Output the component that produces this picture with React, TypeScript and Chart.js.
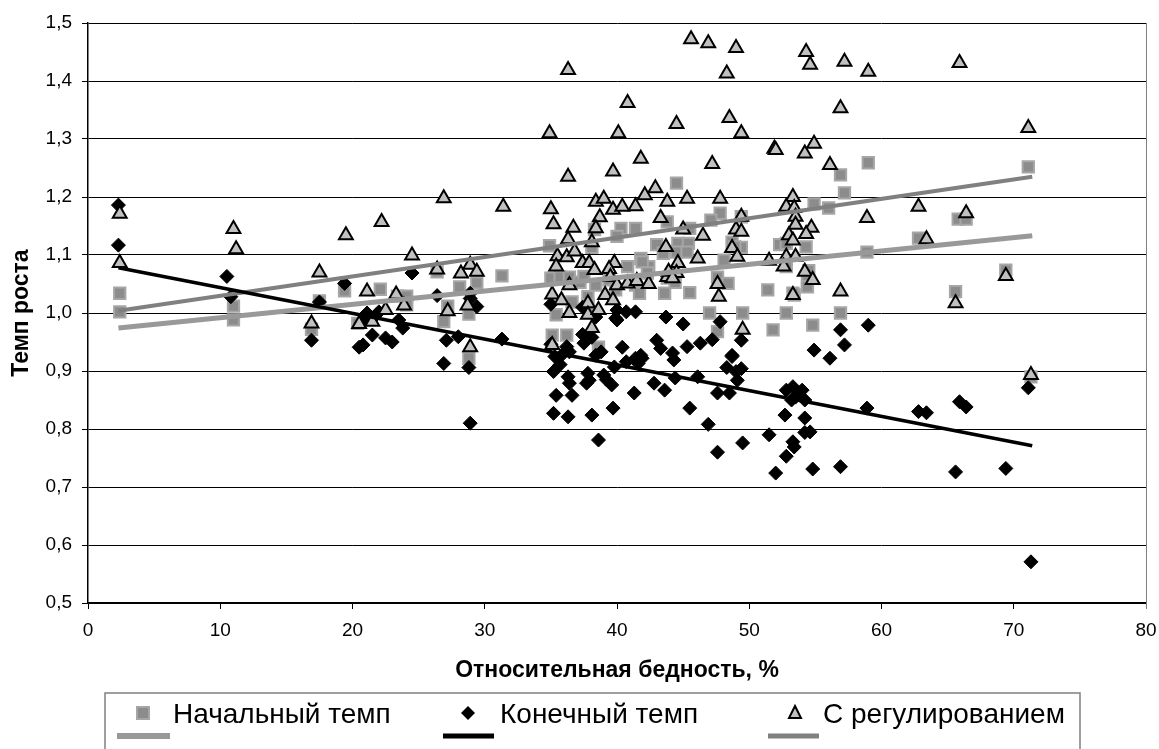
import React, { useEffect, useRef } from "react";
import { Chart, registerables } from "chart.js";

Chart.register(...registerables);

const SERIES_NAMES = ["Начальный темп", "Конечный темп", "С регулированием"];
const X_TITLE = "Относительная бедность, %";
const Y_TITLE = "Темп роста";
const X_MIN = 0, X_MAX = 80, X_STEP = 10;
const Y_MIN = 0.5, Y_MAX = 1.5, Y_STEP = 0.1;

// Начальный темп (squares)
const initialRate: number[][] = [
  [2.4,1.034],[2.4,1.002],[11.0,1.012],[11.0,0.988],[16.9,0.972],[17.5,1.021],[19.4,1.038],[22.1,1.041],
  [20.4,0.982],[23.4,1.029],[24.1,1.029],[24.1,1.014],[26.4,1.071],[27.2,1.012],[26.9,0.985],[28.1,1.045],
  [29.4,1.052],[28.8,0.998],[28.8,0.922],[31.3,1.064],
  [44.5,1.224],[47.8,1.172],[47.1,1.16],[49.4,1.166],[40.3,1.146],[41.4,1.146],[40.0,1.132],[43.0,1.118],
  [43.8,1.157],[44.6,1.12],[45.4,1.12],[48.7,1.122],[49.4,1.113],[52.3,1.118],[34.9,1.116],[38.3,1.144],
  [38.1,1.113],[41.8,1.094],[40.8,1.08],[42.4,1.08],[48.1,1.091],[35.0,1.06],[35.7,1.062],[36.4,1.062],
  [37.2,1.053],[37.8,1.028],[38.4,1.048],[39.4,1.057],[39.9,1.04],[41.4,1.048],[41.9,1.088],[41.7,1.034],
  [42.3,1.069],[43.8,1.06],[44.4,1.053],[47.6,1.062],[48.4,1.051],[51.4,1.04],[35.4,0.997],[35.1,0.962],
  [36.2,0.962],[38.6,0.941],[47.0,1.0],[47.6,0.968],[49.5,1.0],[51.8,0.971],[37.8,1.014],[36.6,1.019],
  [43.5,1.103],[44.5,1.105],[45.3,1.105],[45.5,1.146],[48.9,1.114],[45.5,1.035],[43.6,1.034],[37.5,1.063],
  [59.0,1.259],[71.1,1.252],[56.9,1.238],[57.2,1.207],[54.9,1.188],[56.0,1.181],[65.8,1.162],[66.4,1.162],
  [62.8,1.129],[52.8,1.12],[54.3,1.114],[58.9,1.105],[52.8,1.08],[54.5,1.073],[69.4,1.074],[54.4,1.054],
  [54.4,1.045],[53.4,1.031],[65.6,1.037],[52.8,1.0],[56.9,1.0],[54.8,0.979],[71.3,0.89],[53.3,1.034]
];

// Конечный темп (diamonds)
const finalRate: number[][] = [
  [2.3,1.186],[2.3,1.117],[10.5,1.063],[10.8,1.028],[16.9,0.953],[17.5,1.019],[19.4,1.051],[20.5,0.941],
  [20.8,0.945],[21.1,1.0],[21.5,0.962],[23.0,0.95],[22.5,0.957],[21.8,0.997],[22.0,1.002],[23.5,0.988],
  [23.8,0.974],[24.5,1.069],[26.4,1.03],[27.1,0.953],[26.9,0.913],[28.0,0.959],[28.9,1.025],[29.4,1.011],
  [28.8,0.906],[28.9,0.81],[31.3,0.955],[28.9,1.034],[20.9,0.988],
  [35.0,1.015],[35.0,0.946],[36.2,0.942],[37.4,0.963],[38.1,0.958],[37.5,0.948],[38.8,0.933],[40.0,1.005],
  [40.7,1.002],[41.4,1.002],[39.9,0.991],[40.4,0.941],[41.4,0.922],[41.8,0.927],[43.0,0.953],[43.3,0.939],
  [43.7,0.993],[44.2,0.931],[45.0,0.981],[45.3,0.942],[46.3,0.948],[47.2,0.954],[47.8,0.985],[48.7,0.925],
  [49.4,0.953],[49.4,0.904],[48.3,0.906],[35.3,0.925],[35.8,0.927],[36.4,0.933],[35.2,0.899],[35.7,0.911],
  [36.3,0.89],[36.4,0.879],[35.4,0.858],[36.6,0.858],[35.2,0.827],[36.3,0.821],[38.1,0.824],[39.7,0.836],
  [38.6,0.781],[37.8,0.896],[37.9,0.884],[37.7,0.879],[38.4,0.927],[39.0,0.893],[39.2,0.885],[39.6,0.876],
  [39.8,0.907],[41.3,0.862],[40.7,0.916],[41.6,0.913],[41.9,0.922],[42.8,0.879],[43.6,0.867],[40.0,0.988],
  [37.4,1.01],[38.4,0.993],[44.3,0.919],[46.1,0.89],[44.4,0.888],[47.6,0.862],[48.5,0.862],[45.5,0.836],
  [46.9,0.808],[47.6,0.76],[49.5,0.776],[49.1,0.884],[49.0,0.899],[48.7,0.927],
  [51.5,0.79],[52.8,0.867],[53.3,0.873],[54.0,0.867],[53.2,0.85],[53.5,0.855],[54.2,0.85],[52.7,0.824],
  [54.2,0.819],[54.2,0.794],[54.6,0.795],[53.3,0.778],[53.4,0.769],[52.8,0.753],[52.0,0.724],[54.8,0.731],
  [56.9,0.735],[58.9,0.836],[62.8,0.83],[63.4,0.828],[65.9,0.847],[66.4,0.838],[65.6,0.726],[69.4,0.732],
  [71.1,0.871],[71.3,0.571],[56.9,0.971],[59.0,0.979],[54.9,0.936],[56.1,0.922],[57.2,0.945]
];

// С регулированием (triangles)
const regulatedRate: number[][] = [
  [2.4,1.171],[2.4,1.086],[11.0,1.145],[11.2,1.11],[16.9,0.982],[17.5,1.07],[19.5,1.134],[22.2,1.157],
  [21.1,1.037],[20.5,0.981],[21.5,0.985],[22.5,1.005],[23.3,1.032],[23.9,1.013],[24.5,1.099],[26.4,1.075],
  [27.2,1.003],[28.2,1.068],[28.9,1.083],[29.4,1.071],[28.7,1.013],[28.9,0.941],[26.9,1.198],[31.4,1.183],
  [45.6,1.472],[46.9,1.465],[49.0,1.457],[48.3,1.413],[36.3,1.419],[40.8,1.362],[44.5,1.326],[48.5,1.336],
  [49.4,1.31],[34.9,1.31],[40.1,1.31],[51.9,1.283],[41.8,1.266],[47.2,1.257],[36.3,1.235],[39.7,1.244],
  [42.9,1.215],[42.1,1.203],[45.3,1.197],[47.8,1.197],[35.0,1.179],[38.4,1.192],[39.0,1.197],[39.7,1.178],
  [40.4,1.183],[41.4,1.184],[43.8,1.192],[43.3,1.164],[38.7,1.165],[35.2,1.153],[36.7,1.147],[38.4,1.146],
  [45.0,1.144],[46.5,1.133],[49.0,1.144],[49.4,1.14],[36.3,1.127],[38.1,1.122],[43.7,1.114],[48.7,1.112],
  [35.5,1.098],[36.2,1.096],[36.8,1.106],[35.4,1.08],[37.4,1.086],[37.9,1.086],[39.8,1.086],[38.3,1.074],
  [39.4,1.076],[46.1,1.094],[49.1,1.097],[44.6,1.086],[39.5,1.062],[40.0,1.048],[40.8,1.051],[41.5,1.055],
  [42.4,1.05],[43.8,1.062],[44.5,1.069],[47.6,1.05],[47.7,1.028],[36.4,1.048],[35.1,1.032],[35.8,1.022],
  [39.1,1.031],[39.7,1.022],[36.4,1.0],[37.8,1.017],[37.8,0.997],[38.6,1.005],[38.1,0.974],[49.5,0.971],
  [35.1,0.945],[43.9,1.071],[44.2,1.06],
  [54.3,1.45],[54.6,1.428],[57.2,1.433],[59.0,1.416],[65.9,1.431],[56.9,1.353],[71.1,1.319],[52.0,1.281],
  [54.2,1.275],[54.9,1.292],[56.1,1.255],[53.3,1.2],[52.8,1.183],[53.4,1.181],[62.8,1.183],[66.4,1.172],
  [58.9,1.164],[53.5,1.166],[53.5,1.152],[54.7,1.147],[53.0,1.134],[54.3,1.136],[53.3,1.125],[63.4,1.127],
  [51.5,1.09],[52.8,1.097],[53.5,1.097],[52.6,1.08],[54.2,1.071],[54.8,1.057],[53.3,1.031],[56.9,1.037],
  [69.4,1.064],[65.6,1.017],[71.3,0.893],[49.4,1.166]
];

// Linear trend lines (end points)
const initialTrend: number[][] = [[2.3, 0.974], [71.4, 1.133]];
const finalTrend: number[][] = [[2.3, 1.078], [71.4, 0.771]];
const regulatedTrend: number[][] = [[2.3, 1.004], [71.4, 1.235]];

const FONT = "'Liberation Sans', Arial, sans-serif";

const toXY = (arr: number[][]) => arr.map(([x, y]) => ({ x, y }));

const frameAndLegend = {
  id: "frameAndLegend",
  afterDatasetsDraw(chart: any) {
    const { ctx, chartArea } = chart;
    ctx.save();
    ctx.strokeStyle = "#808080";
    ctx.lineWidth = 1;
    ctx.beginPath();
    ctx.moveTo(Math.round(chartArea.right) + 0.5, chartArea.top);
    ctx.lineTo(Math.round(chartArea.right) + 0.5, chartArea.bottom + 6);
    ctx.stroke();
    ctx.restore();
  },
  afterDraw(chart: any) {
    const ctx = chart.ctx;
    ctx.save();
    // legend box
    ctx.strokeStyle = "#808080";
    ctx.lineWidth = 1.5;
    ctx.strokeRect(105, 693, 975, 80);
    ctx.fillStyle = "#000";
    ctx.font = `28px ${FONT}`;
    ctx.textBaseline = "alphabetic";
    ctx.textAlign = "left";
    // entry 1: square
    ctx.fillStyle = "#8c8c8c";
    ctx.strokeStyle = "#a6a6a6";
    ctx.lineWidth = 2;
    ctx.fillRect(137, 707, 12, 12);
    ctx.strokeRect(137, 707, 12, 12);
    ctx.fillStyle = "#000";
    ctx.fillText(SERIES_NAMES[0], 173, 723);
    ctx.strokeStyle = "#999999";
    ctx.lineWidth = 6;
    ctx.beginPath(); ctx.moveTo(117, 736); ctx.lineTo(170, 736); ctx.stroke();
    // entry 2: diamond
    ctx.fillStyle = "#000";
    ctx.beginPath();
    ctx.moveTo(468, 706); ctx.lineTo(475, 713); ctx.lineTo(468, 720); ctx.lineTo(461, 713);
    ctx.closePath(); ctx.fill();
    ctx.fillText(SERIES_NAMES[1], 500, 723);
    ctx.strokeStyle = "#000";
    ctx.lineWidth = 5;
    ctx.beginPath(); ctx.moveTo(443, 736); ctx.lineTo(494, 736); ctx.stroke();
    // entry 3: triangle
    ctx.fillStyle = "#c0c0c0";
    ctx.strokeStyle = "#000";
    ctx.lineWidth = 2;
    ctx.beginPath();
    ctx.moveTo(795, 706); ctx.lineTo(801, 718); ctx.lineTo(789, 718);
    ctx.closePath(); ctx.fill(); ctx.stroke();
    ctx.fillStyle = "#000";
    ctx.fillText(SERIES_NAMES[2], 823, 723);
    ctx.strokeStyle = "#808080";
    ctx.lineWidth = 5;
    ctx.beginPath(); ctx.moveTo(768, 736); ctx.lineTo(819, 736); ctx.stroke();
    ctx.restore();
  },
};

export default function App() {
  const ref = useRef<HTMLCanvasElement | null>(null);

  useEffect(() => {
    document.body.style.margin = "0";
    const canvas = ref.current;
    if (!canvas) return;
    const chart = new Chart(canvas, {
      type: "scatter",
      data: {
        datasets: [
          {
            label: SERIES_NAMES[0] + " trend",
            data: toXY(initialTrend),
            showLine: true,
            borderColor: "#999999",
            borderWidth: 5,
            pointRadius: 0,
            order: 1,
          },
          {
            label: SERIES_NAMES[2] + " trend",
            data: toXY(regulatedTrend),
            showLine: true,
            borderColor: "#808080",
            borderWidth: 4,
            pointRadius: 0,
            order: 1,
          },
          {
            label: SERIES_NAMES[1] + " trend",
            data: toXY(finalTrend),
            showLine: true,
            borderColor: "#000000",
            borderWidth: 3.5,
            pointRadius: 0,
            order: 0,
          },
          {
            label: SERIES_NAMES[2],
            data: toXY(regulatedRate),
            pointStyle: "triangle",
            pointRadius: 8,
            backgroundColor: "#c0c0c0",
            borderColor: "#000000",
            borderWidth: 2,
            order: 2,
          },
          {
            label: SERIES_NAMES[1],
            data: toXY(finalRate),
            pointStyle: "rectRot",
            pointRadius: 7,
            backgroundColor: "#000000",
            borderColor: "#000000",
            borderWidth: 1,
            order: 3,
          },
          {
            label: SERIES_NAMES[0],
            data: toXY(initialRate),
            pointStyle: "rect",
            pointRadius: 8,
            backgroundColor: "#8c8c8c",
            borderColor: "#a6a6a6",
            borderWidth: 2,
            order: 4,
          },
        ],
      },
      options: {
        responsive: false,
        animation: false,
        devicePixelRatio: 1,
        layout: { padding: { left: 0, top: 23, right: 13, bottom: 56 } },
        plugins: {
          legend: { display: false },
          tooltip: { enabled: false },
        },
        scales: {
          x: {
            type: "linear",
            min: X_MIN,
            max: X_MAX,
            afterFit: (s: any) => { s.height = 90; s.paddingRight = 0; s.paddingLeft = 0; },
            ticks: {
              stepSize: X_STEP,
              color: "#000",
              padding: 10,
              font: { family: FONT, size: 19 },
            },
            grid: { drawOnChartArea: false, drawTicks: true, tickLength: 6, color: "#000" },
            border: { display: true, color: "#000", width: 1.5 },
            title: {
              display: true,
              text: X_TITLE,
              color: "#000",
              font: { family: FONT, size: 23, weight: "bold" },
              padding: { top: 0, bottom: 9 },
            },
          },
          y: {
            type: "linear",
            min: Y_MIN,
            max: Y_MAX,
            afterFit: (s: any) => { s.width = 88; },
            ticks: {
              stepSize: Y_STEP,
              color: "#000",
              padding: 10,
              font: { family: FONT, size: 19 },
              callback: (v: any) => Number(v).toFixed(1).replace(".", ","),
            },
            grid: { drawTicks: true, tickLength: 6, color: "#000", lineWidth: 1 },
            border: { display: true, color: "#000", width: 1.5 },
            title: {
              display: true,
              text: Y_TITLE,
              color: "#000",
              font: { family: FONT, size: 23, weight: "bold" },
              padding: { top: 8, bottom: 0 },
            },
          },
        },
      },
      plugins: [frameAndLegend],
    });
    return () => chart.destroy();
  }, []);

  return (
    <div style={{ width: 1159, height: 749, background: "#fff" }}>
      <canvas ref={ref} width={1159} height={749} style={{ display: "block" }} />
    </div>
  );
}
